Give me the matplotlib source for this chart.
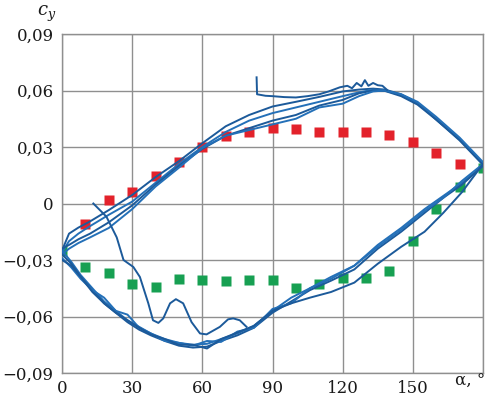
import matplotlib
matplotlib.use("Agg")
import matplotlib.pyplot as plt

# ---------------- data ----------------
alpha_pts = [0, 10, 20, 30, 40, 50, 60, 70, 80, 90, 100, 110, 120, 130, 140, 150, 160, 170, 180]
cy_red = [None, -0.011, 0.002, 0.006, 0.0145, 0.022, 0.030, 0.0357, 0.038, 0.040,
          0.0395, 0.038, 0.0378, 0.0377, 0.0363, 0.0325, 0.0266, 0.0212, None]
cy_green = [-0.0253, -0.0337, -0.037, -0.043, -0.0443, -0.040, -0.0406, -0.041, -0.0404, -0.0407,
            -0.0448, -0.043, -0.0395, -0.0398, -0.0358, -0.020, -0.0027, 0.0088, 0.0191]

# measured hysteresis loops: upper branch (increasing alpha) and lower branch
alpha_up = [0, 3, 7, 12, 20, 30, 40, 50, 60, 70, 80, 90, 100, 110, 120, 127, 133, 138, 145, 152, 160, 170, 180]
cy_up_a = [-0.025, -0.016, -0.0128, -0.0095, -0.0035, 0.0045, 0.014, 0.0225, 0.032, 0.041, 0.047, 0.0515,
           0.054, 0.0566, 0.0595, 0.0605, 0.061, 0.0605, 0.058, 0.0535, 0.0445, 0.034, 0.021]
cy_up_b = [-0.026, -0.020, -0.016, -0.012, -0.006, 0.001, 0.011, 0.021, 0.030, 0.038, 0.044, 0.048,
           0.051, 0.054, 0.057, 0.059, 0.0605, 0.060, 0.0575, 0.053, 0.045, 0.034, 0.021]
cy_up_c = [-0.024, -0.022, -0.019, -0.016, -0.010, -0.001, 0.010, 0.020, 0.029, 0.036, 0.040, 0.044,
           0.047, 0.052, 0.055, 0.0585, 0.060, 0.0598, 0.057, 0.0525, 0.0445, 0.0335, 0.0205]
cy_up_d = [-0.027, -0.024, -0.021, -0.018, -0.013, -0.003, 0.009, 0.019, 0.0295, 0.036, 0.039, 0.042,
           0.045, 0.051, 0.053, 0.057, 0.0595, 0.060, 0.058, 0.054, 0.046, 0.035, 0.022]

alpha_lo = [0, 4, 8, 13, 18, 23, 28, 33, 38, 44, 50, 56, 62, 68, 75, 82, 90, 98, 106, 115, 125, 135, 145, 155, 163, 171, 180]
cy_lo_a = [-0.025, -0.031, -0.038, -0.045, -0.052, -0.057, -0.062, -0.0655, -0.069, -0.072, -0.074, -0.075,
           -0.0745, -0.072, -0.069, -0.065, -0.057, -0.050, -0.045, -0.040, -0.033, -0.022, -0.013, -0.003,
           0.004, 0.011, 0.020]
cy_lo_b = [-0.027, -0.032, -0.039, -0.046, -0.053, -0.058, -0.063, -0.067, -0.070, -0.073, -0.0755, -0.0765,
           -0.076, -0.073, -0.070, -0.066, -0.058, -0.052, -0.046, -0.041, -0.035, -0.024, -0.015, -0.005,
           0.003, 0.010, 0.020]
cy_lo_c = [-0.029, -0.034, -0.040, -0.046, -0.050, -0.057, -0.059, -0.066, -0.069, -0.073, -0.074, -0.0755,
           -0.073, -0.0735, -0.068, -0.066, -0.056, -0.053, -0.045, -0.039, -0.033, -0.023, -0.014, -0.004,
           0.003, 0.012, 0.021]
cy_lo_d = [-0.030, -0.033, -0.039, -0.047, -0.053, -0.058, -0.062, -0.066, -0.0695, -0.072, -0.075, -0.075,
           -0.077, -0.072, -0.0685, -0.065, -0.057, -0.053, -0.050, -0.047, -0.042, -0.032, -0.023, -0.015,
           -0.005, 0.006, 0.021]

# start-up transients
alpha_tr1 = [13.4, 19, 23.4, 26.3, 30.5, 33.3, 36.9, 38.9, 41.2, 43.3, 46.2, 48.7, 51.8, 55.4, 59, 61.8,
             67.5, 71, 73.2, 76, 78.9]
cy_tr1 = [0.0, -0.007, -0.018, -0.030, -0.0337, -0.039, -0.053, -0.062, -0.0634, -0.061, -0.053, -0.0508,
          -0.053, -0.063, -0.069, -0.0695, -0.0655, -0.0615, -0.061, -0.062, -0.0655]
alpha_tr2 = [83.2, 83.4, 87, 90, 95, 100, 105, 110, 114, 118.8, 122, 124, 126, 128, 129.5, 131, 133,
             135, 137, 139]
cy_tr2 = [0.067, 0.058, 0.0572, 0.057, 0.0565, 0.0563, 0.057, 0.058, 0.0595, 0.0617, 0.0625, 0.0612,
          0.064, 0.0622, 0.0655, 0.0625, 0.064, 0.0628, 0.0625, 0.0603]

xtick_vals = [0, 30, 60, 90, 120, 150, 180]
xtick_labels = ["0", "30", "60", "90", "120", "150", ""]
ytick_vals = [-0.09, -0.06, -0.03, 0, 0.03, 0.06, 0.09]
ytick_labels = ["\u22120,09", "\u22120,06", "\u22120,03", "0", "0,03", "0,06", "0,09"]

# ---------------- plot ----------------
plt.rcParams['font.family'] = ['DejaVu Serif']
plt.rcParams['mathtext.fontset'] = 'dejavuserif'

fig = plt.figure(figsize=(4.93, 3.96), dpi=100)
ax = fig.add_axes([62 / 493, 1 - 373 / 396, (483 - 62) / 493, (373 - 34) / 396])
ax.set_xlim(0, 180)
ax.set_ylim(-0.09, 0.09)

gray = '#8f8f8f'
ax.set_xticks(xtick_vals)
ax.set_xticklabels(xtick_labels)
ax.set_yticks(ytick_vals)
ax.set_yticklabels(ytick_labels)
ax.tick_params(length=0, labelsize=12, colors='#1a1a1a')
ax.tick_params(axis='y', pad=6)
ax.tick_params(axis='x', pad=5)
ax.grid(True, color=gray, lw=1.0)
for s in ax.spines.values():
    s.set_color(gray)
    s.set_linewidth(1.0)
ax.set_axisbelow(True)

# markers
rx = [a for a, v in zip(alpha_pts, cy_red) if v is not None]
ry = [v for v in cy_red if v is not None]
ax.plot(rx, ry, 's', color='#e3222b', ms=6.5, mec='none', zorder=2)
ax.plot(alpha_pts, cy_green, 's', color='#17a052', ms=6.5, mec='none', zorder=2)

dark = '#1c5a9a'
mid = '#2470b8'
lw = 1.4
for up, col in zip([cy_up_a, cy_up_b, cy_up_c, cy_up_d], [dark, mid, dark, mid]):
    ax.plot(alpha_up, up, color=col, lw=lw, zorder=3)
for lo, col in zip([cy_lo_a, cy_lo_b, cy_lo_c, cy_lo_d], [mid, dark, mid, dark]):
    ax.plot(alpha_lo, lo, color=col, lw=lw, zorder=3)
ax.plot(alpha_tr1, cy_tr1, color=dark, lw=lw, zorder=3)
ax.plot(alpha_tr2, cy_tr2, color=dark, lw=lw, zorder=3)

# axis labels
ax.text(168, -0.09, "\u03b1, \u00b0", transform=ax.transData, ha='left', va='top',
        fontsize=12, color='#1a1a1a')
fig.text(47 / 493, 1 - 14 / 396, r"$c_y$", ha='center', va='center', fontsize=13, color='#1a1a1a')

fig.savefig("out.png", dpi=100)
